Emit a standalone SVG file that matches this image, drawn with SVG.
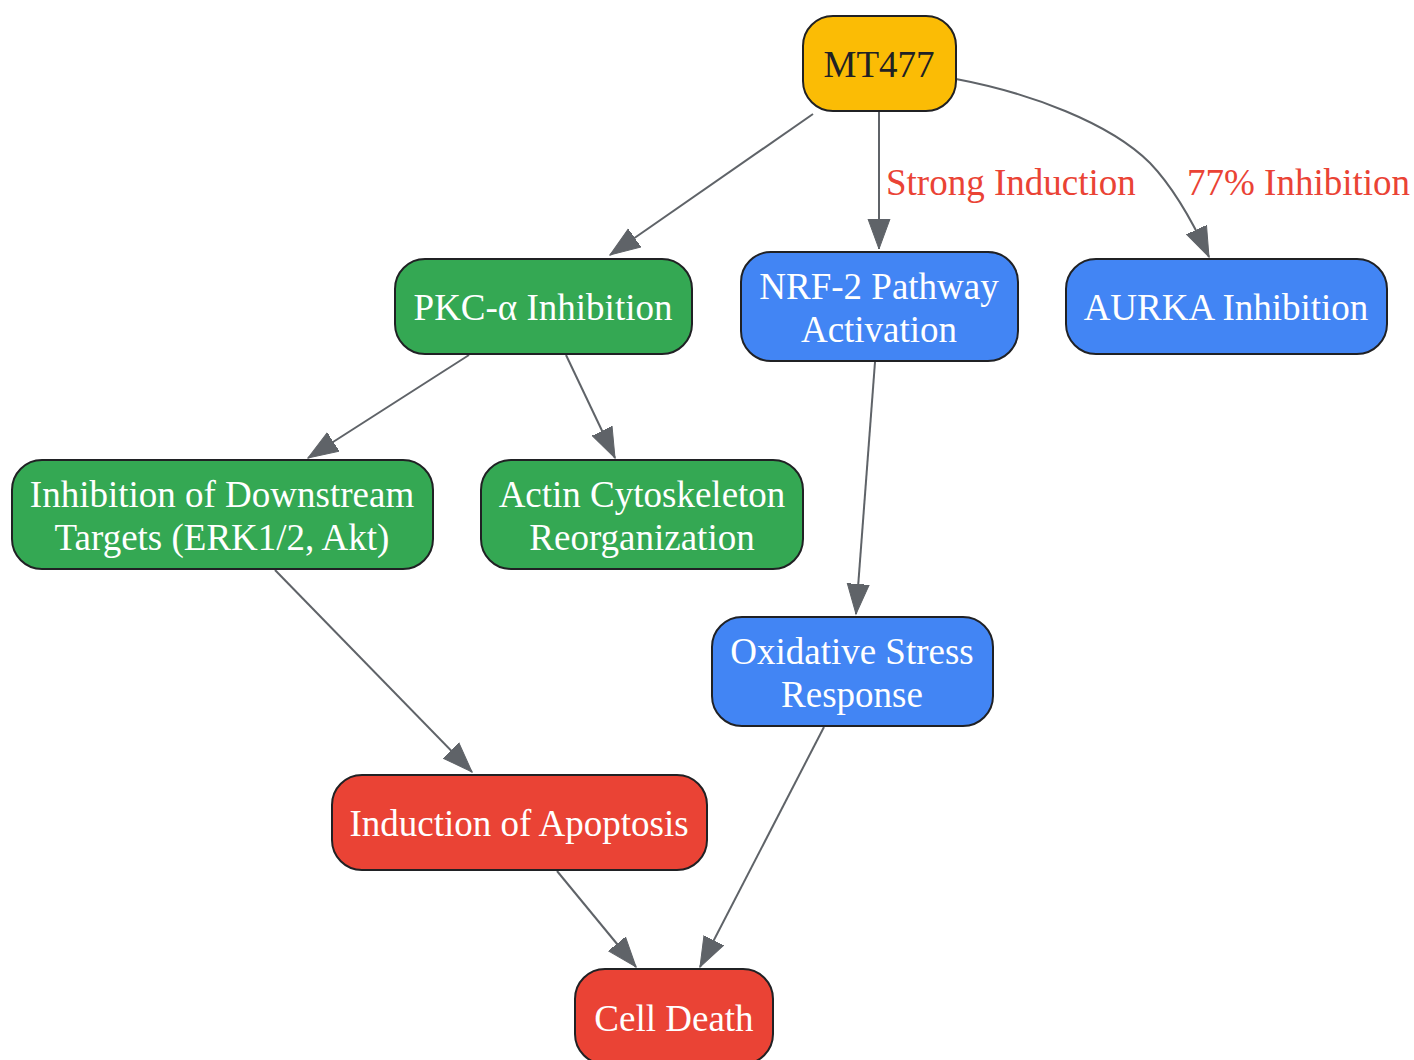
<svg xmlns="http://www.w3.org/2000/svg" width="1414" height="1060" viewBox="0 0 1414 1060">
<defs>
<style>
.n rect{stroke:#202124;stroke-width:2}
.n text{font-family:"Liberation Serif",serif;font-size:37px;text-anchor:middle;fill:#fff}
.y rect{fill:#FBBC05}.y text{fill:#202124}
.g rect{fill:#34A853}.b rect{fill:#4285F4}.r rect{fill:#EA4335}
.e path{fill:none;stroke:#5F6368;stroke-width:2;marker-end:url(#ah)}
.lbl{font-family:"Liberation Serif",serif;font-size:37px;fill:#EA4335}
</style>
<marker id="ah" markerUnits="userSpaceOnUse" markerWidth="32" markerHeight="24" refX="30" refY="11" orient="auto" viewBox="0 0 32 22">
<path d="M0,0 L30,11 L0,22 Z" fill="#5F6368" stroke="#5F6368" stroke-width="1"/>
</marker>
</defs>
<rect width="1414" height="1060" fill="#fff"/>
<g id="edges" class="e">
<path d="M813,114 L610,255"/>
<path d="M879,111 L879,249"/>
<path d="M956,79 C1030,93 1110,123 1150,163 C1172,186 1192,220 1209,257"/>
<path d="M469,355 L308,458"/>
<path d="M566,355 L615,458"/>
<path d="M875,362 L856,614"/>
<path d="M275,570 L472,772"/>
<path d="M824,727 L700,967"/>
<path d="M557,871 L636,967"/>
</g>
<text class="lbl" x="886" y="195">Strong Induction</text>
<text class="lbl" x="1187" y="195">77% Inhibition</text>
<g id="mt477" class="n y"><rect x="803" y="16" width="153" height="95" rx="30"/><text x="879" y="77">MT477</text></g>
<g id="pkc" class="n g"><rect x="395" y="259" width="297" height="95" rx="30"/><text x="543" y="320">PKC-α Inhibition</text></g>
<g id="nrf2" class="n b"><rect x="741" y="252" width="277" height="109" rx="30"/><text x="879" y="299">NRF-2 Pathway</text><text x="879" y="342">Activation</text></g>
<g id="aurka" class="n b"><rect x="1066" y="259" width="321" height="95" rx="30"/><text x="1226" y="320">AURKA Inhibition</text></g>
<g id="downstream" class="n g"><rect x="12" y="460" width="421" height="109" rx="30"/><text x="222" y="507">Inhibition of Downstream</text><text x="222" y="550">Targets (ERK1/2, Akt)</text></g>
<g id="actin" class="n g"><rect x="481" y="460" width="322" height="109" rx="30"/><text x="642" y="507">Actin Cytoskeleton</text><text x="642" y="550">Reorganization</text></g>
<g id="oxidative" class="n b"><rect x="712" y="617" width="281" height="109" rx="30"/><text x="852" y="664">Oxidative Stress</text><text x="852" y="707">Response</text></g>
<g id="apoptosis" class="n r"><rect x="332" y="775" width="375" height="95" rx="30"/><text x="519" y="836">Induction of Apoptosis</text></g>
<g id="celldeath" class="n r"><rect x="575" y="969" width="198" height="95" rx="30"/><text x="674" y="1031">Cell Death</text></g>
</svg>
